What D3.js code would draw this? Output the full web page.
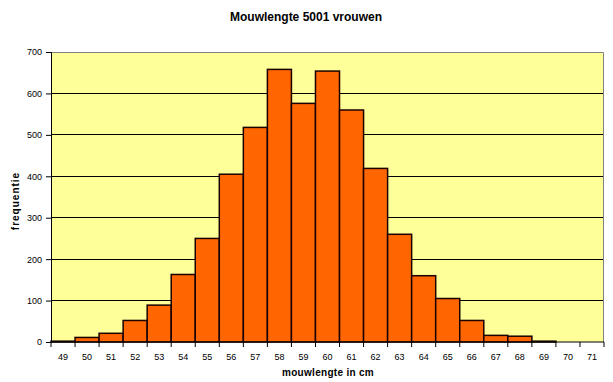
<!DOCTYPE html>
<html>
<head>
<meta charset="utf-8">
<title>Mouwlengte</title>
<script src="https://d3js.org/d3.v7.min.js"></script>
<style>
  body { margin: 0; background: #fff; }
  text { font-family: "Liberation Sans", Arial, sans-serif; }
</style>
</head>
<body>
<div id="chart"></div>
<script>
// data
let lengths = ["49","50","51","52","53","54","55","56","57","58","59","60","61","62","63","64","65","66","67","68","69","70","71"];
let counts = [2, 11, 21, 52, 89, 163, 250, 405, 518, 658, 576, 654, 560, 419, 260, 160, 105, 52, 16, 14, 2, 0, 0];
let yTicks = [0, 100, 200, 300, 400, 500, 600, 700];

let W = 613, H = 382;
let margin = {top: 52, right: 9, bottom: 40, left: 51};
let w = W - margin.left - margin.right;
let h = H - margin.top - margin.bottom;

let svg = d3.select("#chart").append("svg")
    .attr("width", W).attr("height", H);

let g = svg.append("g")
    .attr("transform", "translate(" + margin.left + "," + margin.top + ")");

let x = d3.scaleBand().domain(lengths).range([0, w]).padding(0);
let y = d3.scaleLinear().domain([0, 700]).range([h, 0]);

// plot background
g.append("rect").attr("width", w).attr("height", h).attr("fill", "#ffff99");

// gridlines
g.selectAll("line.grid").data(yTicks.slice(1, -1)).enter().append("line")
    .attr("x1", 0).attr("x2", w)
    .attr("y1", d => y(d)).attr("y2", d => y(d))
    .attr("stroke", "#000").attr("stroke-width", 1)
    .attr("shape-rendering", "crispEdges");

// top + right border
g.append("path")
    .attr("d", "M0,0.5H" + (w - 0.5) + "V" + h)
    .attr("fill", "none").attr("stroke", "#808080");

// bars
g.selectAll("rect.bar").data(counts).enter().append("rect")
    .attr("x", (d, i) => x(lengths[i]))
    .attr("y", d => y(d))
    .attr("width", x.bandwidth())
    .attr("height", d => h - y(d))
    .attr("fill", "#ff6600")
    .attr("stroke", d => d > 0 ? "#1a0000" : "none")
    .attr("stroke-width", 1.5);

// y axis
let yAxis = g.append("g")
    .call(d3.axisLeft(y).tickValues(yTicks).tickSize(5).tickPadding(4));
yAxis.select(".domain").attr("stroke", "#000");
yAxis.selectAll("text").attr("font-size", "9px").attr("fill", "#000");

// x axis: ticks at band boundaries, labels at centres
let xAxis = g.append("g").attr("transform", "translate(0," + h + ")");
xAxis.append("line").attr("x1", 0).attr("x2", w).attr("stroke", "#000");
let bounds = lengths.map(d => x(d)).concat([w]);
xAxis.selectAll("line.tk").data(bounds).enter().append("line")
    .attr("x1", d => d).attr("x2", d => d)
    .attr("y1", 0).attr("y2", 5).attr("stroke", "#000");
xAxis.selectAll("text").data(lengths).enter().append("text")
    .attr("x", d => x(d) + x.bandwidth() / 2)
    .attr("y", 18)
    .attr("text-anchor", "middle")
    .attr("font-size", "9px")
    .text(d => d);

// titles
svg.append("text")
    .attr("x", 306).attr("y", 21)
    .attr("text-anchor", "middle")
    .attr("font-size", "12px").attr("font-weight", "bold")
    .text("Mouwlengte 5001 vrouwen");

svg.append("text")
    .attr("x", 328).attr("y", 376)
    .attr("text-anchor", "middle")
    .attr("font-size", "10px").attr("font-weight", "bold")
    .attr("letter-spacing", "0.3px")
    .text("mouwlengte in cm");

svg.append("text")
    .attr("transform", "translate(19,201) rotate(-90)")
    .attr("text-anchor", "middle")
    .attr("font-size", "10px").attr("font-weight", "bold")
    .attr("letter-spacing", "1px")
    .text("frequentie");
</script>
</body>
</html>
